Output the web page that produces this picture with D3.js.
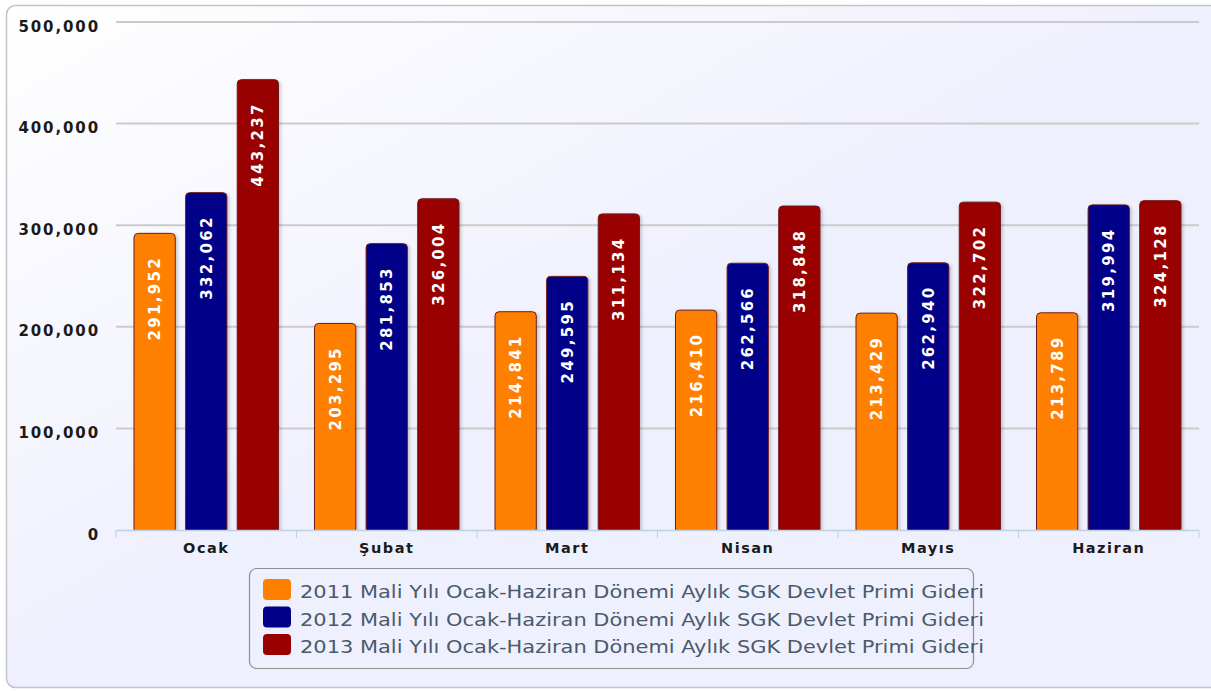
<!DOCTYPE html>
<html>
<head>
<meta charset="utf-8">
<script src="https://cdn.jsdelivr.net/npm/d3@7"></script>
<style>
  html, body { margin: 0; padding: 0; background: #ffffff; }
  svg { display: block; }
</style>
</head>
<body>
<div id="chart"></div>
<script>
var svgWidth = 1211;
var svgHeight = 691;

// data
var months = ['Ocak', 'Şubat', 'Mart', 'Nisan', 'Mayıs', 'Haziran'];
var years = ['2011', '2012', '2013'];
var values2011 = [291952, 203295, 214841, 216410, 213429, 213789];
var values2012 = [332062, 281853, 249595, 262566, 262940, 319994];
var values2013 = [443237, 326004, 311134, 318848, 322702, 324128];
var yTicks = [0, 100000, 200000, 300000, 400000, 500000];
var seriesNames = [
    '2011 Mali Yılı Ocak-Haziran Dönemi Aylık SGK Devlet Primi Gideri',
    '2012 Mali Yılı Ocak-Haziran Dönemi Aylık SGK Devlet Primi Gideri',
    '2013 Mali Yılı Ocak-Haziran Dönemi Aylık SGK Devlet Primi Gideri'
];
var colors = ['#ff8000', '#000088', '#990000'];

var series = [values2011, values2012, values2013];

var margin = {top: 22, right: 12, bottom: 161, left: 116};
var width = svgWidth - margin.left - margin.right;
var height = svgHeight - margin.top - margin.bottom;

var svg = d3.select('#chart').append('svg')
    .attr('width', svgWidth)
    .attr('height', svgHeight);

var defs = svg.append('defs');
var grad = defs.append('linearGradient')
    .attr('id', 'bg')
    .attr('x1', 0).attr('y1', 0).attr('x2', 0.5).attr('y2', 0.5);
grad.append('stop').attr('offset', '0%').attr('stop-color', '#ffffff');
grad.append('stop').attr('offset', '100%').attr('stop-color', '#eff0fd');

var shadow = defs.append('filter').attr('id', 'shadow')
    .attr('x', '-20%').attr('y', '-5%').attr('width', '150%').attr('height', '115%');
shadow.append('feDropShadow')
    .attr('dx', 2).attr('dy', 1).attr('stdDeviation', 1.5)
    .attr('flood-color', '#000').attr('flood-opacity', 0.18);

svg.append('rect')
    .attr('x', 6.5).attr('y', 5.5)
    .attr('width', 1212).attr('height', 682)
    .attr('rx', 9)
    .attr('fill', 'url(#bg)')
    .attr('stroke', '#c4c4c8')
    .attr('stroke-width', 1.5);

var chartGroup = svg.append('g')
    .attr('transform', `translate(${margin.left}, ${margin.top})`);

var x0 = d3.scaleBand()
    .domain(months)
    .range([0, width]);

var x1 = d3.scaleBand()
    .domain(years)
    .range([18, x0.bandwidth() - 18])
    .paddingInner(0.2);

var y = d3.scaleLinear()
    .domain([0, 500000])
    .range([height, 0]);

// grid lines
chartGroup.append('g')
    .selectAll('line')
    .data(yTicks.slice(1))
    .enter()
    .append('line')
    .attr('x1', 0)
    .attr('x2', width)
    .attr('y1', d => y(d))
    .attr('y2', d => y(d))
    .attr('stroke', '#cbcbcb')
    .attr('stroke-width', 2);

// y axis labels
var leftAxis = d3.axisLeft(y)
    .tickValues(yTicks)
    .tickFormat(d3.format(','))
    .tickSize(0)
    .tickPadding(16);
var yAxis = chartGroup.append('g')
    .call(leftAxis);
yAxis.select('.domain').remove();
yAxis.selectAll('text')
    .attr('dy', '0.6em')
    .style('font-family', 'DejaVu Sans, sans-serif')
    .style('font-weight', 'bold')
    .style('font-size', '15px')
    .style('letter-spacing', '1.9px')
    .attr('fill', '#1a1a1a');

// bars
var groups = chartGroup.selectAll('.month')
    .data(months)
    .enter()
    .append('g')
    .classed('month', true)
    .attr('transform', d => `translate(${x0(d)}, 0)`);

var barData = function(m, i) {
    return years.map((yr, j) => ({year: yr, value: series[j][i], color: colors[j]}));
};

groups.selectAll('rect')
    .data(barData)
    .enter()
    .append('rect')
    .attr('x', d => x1(d.year))
    .attr('y', d => y(d.value))
    .attr('width', x1.bandwidth())
    .attr('height', d => height - y(d.value) + 3)
    .attr('rx', 4)
    .attr('fill', d => d.color)
    .attr('stroke', '#6e1c1c')
    .attr('stroke-width', 1)
    .attr('filter', 'url(#shadow)');

// cover the bottom of bars below the axis
chartGroup.append('rect')
    .attr('x', -2)
    .attr('y', height + 0.5)
    .attr('width', width + 4)
    .attr('height', 6)
    .attr('fill', '#eff0fd');

groups.selectAll('.barLabel')
    .data(barData)
    .enter()
    .append('text')
    .classed('barLabel', true)
    .attr('transform', d => `translate(${x1(d.year) + x1.bandwidth() / 2 + 5.5}, ${y(d.value) + 25}) rotate(-90)`)
    .attr('text-anchor', 'end')
    .attr('textLength', 82)
    .attr('lengthAdjust', 'spacing')
    .style('font-family', 'DejaVu Sans, sans-serif')
    .style('font-weight', 'bold')
    .style('font-size', '15px')
    .attr('fill', '#ffffff')
    .text(d => d3.format(',')(d.value));

// x axis
chartGroup.append('line')
    .attr('x1', 0).attr('x2', width)
    .attr('y1', height + 0.5).attr('y2', height + 0.5)
    .attr('stroke', '#c0d0e0')
    .attr('stroke-width', 1.5);

chartGroup.append('g')
    .selectAll('line')
    .data(months.concat(['end']))
    .enter()
    .append('line')
    .attr('x1', (d, i) => i * x0.step())
    .attr('x2', (d, i) => i * x0.step())
    .attr('y1', height)
    .attr('y2', height + 8)
    .attr('stroke', '#c0d0e0')
    .attr('stroke-width', 1);

chartGroup.append('g')
    .selectAll('text')
    .data(months)
    .enter()
    .append('text')
    .attr('x', d => x0(d) + x0.bandwidth() / 2)
    .attr('y', height + 23)
    .attr('text-anchor', 'middle')
    .style('font-family', 'DejaVu Sans, sans-serif')
    .style('font-weight', 'bold')
    .style('font-size', '14.5px')
    .style('letter-spacing', '1.5px')
    .attr('fill', '#1a1a1a')
    .text(d => d);

// legend
var legend = svg.append('g')
    .attr('transform', 'translate(249, 568)');

legend.append('rect')
    .attr('x', 0.5).attr('y', 0.5)
    .attr('width', 724).attr('height', 100)
    .attr('rx', 7)
    .attr('fill', 'none')
    .attr('stroke', '#909090')
    .attr('stroke-width', 1.2);

var items = legend.selectAll('.item')
    .data(seriesNames)
    .enter()
    .append('g')
    .classed('item', true)
    .attr('transform', (d, i) => `translate(0, ${i * 27.5})`);

items.append('rect')
    .attr('x', 14)
    .attr('y', 11)
    .attr('width', 28)
    .attr('height', 21)
    .attr('rx', 4)
    .attr('fill', (d, i) => colors[i]);

items.append('text')
    .attr('x', 51)
    .attr('y', 30)
    .attr('textLength', 684)
    .attr('lengthAdjust', 'spacingAndGlyphs')
    .style('font-family', 'DejaVu Sans Condensed, DejaVu Sans, sans-serif')
    .style('font-size', '18.5px')
    .attr('fill', '#4a5a6c')
    .text(d => d);
</script>
</body>
</html>
